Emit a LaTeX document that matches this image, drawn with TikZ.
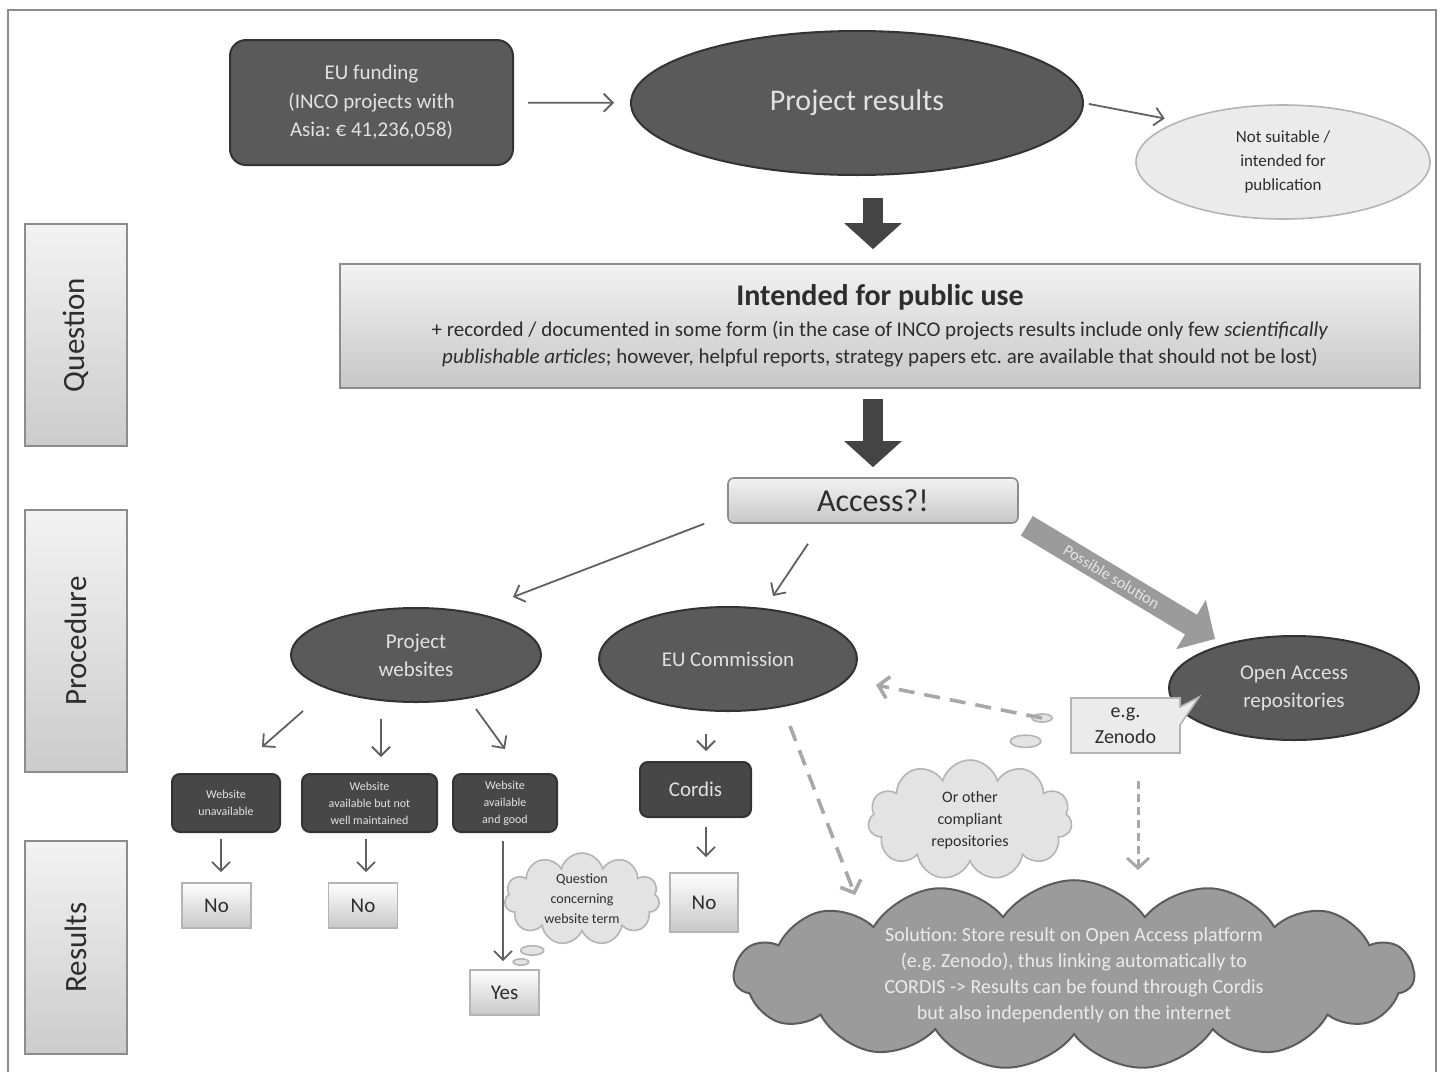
\documentclass[tikz,border=0pt]{standalone}
\usepackage{fontspec}
\setmainfont{Carlito}
\usepackage{graphicx}
\usepackage{tikz}
\usetikzlibrary{arrows.meta}
\usetikzlibrary{positioning}
\usetikzlibrary{calc}
\usetikzlibrary{shapes.geometric}
\usetikzlibrary{shapes.symbols}
\usetikzlibrary{shapes.callouts}
\frenchspacing

\begin{document}
\begin{tikzpicture}[x=0.5pt, y=-0.5pt]
    \definecolor{my_frame}{HTML}{8C8C8C}
    \definecolor{my_dark}{HTML}{5A5A5A}
    \definecolor{my_darker}{HTML}{474747}
    \definecolor{my_edge}{HTML}{333333}
    \definecolor{my_text}{HTML}{E2E2E2}
    \definecolor{my_pale}{HTML}{EBEBEB}
    \definecolor{my_border}{HTML}{B4B4B4}
    \definecolor{my_ink}{HTML}{2D2D2D}
    \definecolor{my_line}{HTML}{606060}
    \definecolor{my_dash}{HTML}{A8A8A8}
    \definecolor{my_block}{HTML}{444444}
    \definecolor{my_grey}{HTML}{9B9B9B}
    \tikzstyle{every node}=[align=center, inner sep=1pt]
    \tikzstyle{darkoval}=[ellipse, draw=my_edge, line width=1pt, fill=my_dark,
                          text=my_text, inner sep=0pt,
                          font=\fontsize{10.5}{14}\selectfont]
    \tikzstyle{darkbox}=[rectangle, rounded corners=4pt, draw=my_edge, line width=1pt,
                         fill=my_darker, text=my_text, font=\fontsize{6}{8.5}\selectfont]
    \tikzstyle{answer}=[rectangle, draw=my_border, line width=0.8pt,
                        top color=white, bottom color=my_pale!85!black,
                        text=my_ink, minimum width=34.5pt, minimum height=22.5pt,
                        font=\fontsize{10.5}{12}\selectfont]
    \tikzstyle{panel}=[rectangle, draw=my_frame, line width=0.8pt,
                       top color=white!95!black, bottom color=white!78!black, text=my_ink]
    \tikzstyle{sidebox}=[rectangle, draw=my_frame, line width=0.8pt,
                         top color=white!95!black, bottom color=white!80!black,
                         minimum width=51pt, text=my_ink,
                         font=\fontsize{15.5}{18}\selectfont]
    \tikzstyle{thought}=[cloud callout, draw=my_border, line width=0.8pt, fill=white!89!black,
                         cloud puffs=11, cloud ignores aspect, inner sep=0pt, text=my_ink]
    \tikzstyle{thinarrow}=[draw=my_line, line width=0.9pt,
                           -{Straight Barb[length=4.5pt, width=9pt]}]
    \tikzstyle{dasharrow}=[draw=my_dash, line width=1.8pt, dash pattern=on 8pt off 5pt,
                           -{Straight Barb[length=5pt, width=11pt]}]
    \tikzstyle{blockarrow}=[draw=my_block, line width=10pt,
                            -{Triangle[length=13pt, width=28pt]}]
    \tikzstyle{solarrow}=[draw=my_grey, line width=11.5pt,
                          -{Triangle[length=14pt, width=28pt]}]

    \useasboundingbox (0,0) rectangle (1442,1072);
    \draw[my_frame, line width=1pt] (8,1072) -- (8,10) -- (1436,10) -- (1436,1072);

    % side labels
    \node[sidebox, minimum height=111pt] (question) at (76,335) {\rotatebox{90}{Question}};
    \node[sidebox, minimum height=131pt] (procedure) at (76,641) {\rotatebox{90}{Procedure}};
    \node[sidebox, minimum height=106.5pt] (resultsrow) at (76,947.5) {\rotatebox{90}{Results}};

    % top part
    \node[darkbox, rounded corners=8pt, fill=my_dark, minimum width=141.5pt, minimum height=62.5pt,
          font=\fontsize{10.5}{14.3}\selectfont] (funding) at (371.5,102.5)
          {EU funding\\(INCO projects with\\Asia: € 41,236,058)};
    \node[darkoval, minimum width=226pt, minimum height=72pt,
          font=\fontsize{15}{18}\selectfont] (results) at (857,103) {Project results};
    \node[ellipse, draw=my_border, line width=0.8pt, fill=my_pale, minimum width=147pt,
          minimum height=57pt, inner sep=0pt, text=my_ink,
          font=\fontsize{8.5}{12}\selectfont] (unsuitable) at (1283,162)
          {Not suitable /\\intended for\\publication};
    \node[panel, minimum width=540pt, minimum height=62pt,
          font=\fontsize{10.5}{13.5}\selectfont] (public) at (880,326)
          {{\fontsize{15}{18}\selectfont\bfseries Intended for public use}\\[2pt]
          + recorded / documented in some form (in the case of INCO projects results include only few \textit{scientifically}\\
          \textit{publishable articles}; however, helpful reports, strategy papers etc. are available that should not be lost)};
    \node[panel, rounded corners=3pt, minimum width=145pt, minimum height=22.5pt,
          font=\fontsize{16}{18}\selectfont] (access) at (873,500.5) {Access?!};

    % procedure
    \node[darkoval, minimum width=125pt, minimum height=47pt] (websites) at (416,655) {Project\\websites};
    \node[darkoval, minimum width=129pt, minimum height=52pt] (eucom) at (728,659) {EU Commission};
    \node[darkoval, minimum width=125pt, minimum height=52pt] (oa) at (1294,688) {Open Access\\repositories};
    \node[rectangle callout, callout absolute pointer={($(oa.west)+(31,9)$)}, callout pointer width=9pt,
          draw=my_border, line width=0.8pt, fill=my_pale, minimum width=54.5pt, minimum height=27.5pt,
          text=my_ink, font=\fontsize{10}{13}\selectfont] (zenodo) at (1125.5,725.5) {e.g.\\Zenodo};

    \node[darkbox, minimum width=54pt, minimum height=29pt] (web1) at (226,803) {Website\\unavailable};
    \node[darkbox, minimum width=67.5pt, minimum height=29pt] (web2) at (369.5,803) {Website\\available but not\\well maintained};
    \node[darkbox, minimum width=52pt, minimum height=29pt] (web3) at (505,803) {Website\\available\\and good};
    \node[darkbox, minimum width=55.5pt, minimum height=27.5pt,
          font=\fontsize{10.5}{12}\selectfont] (cordis) at (695.5,789.5) {Cordis};

    % results
    \node[answer] (no1) at (216.5,905.5) {No};
    \node[answer] (no2) at (363,905.5) {No};
    \node[answer, minimum width=34pt, minimum height=29.5pt] (no3) at (704,902.5) {No};
    \node[answer] (yes) at (504.5,992.5) {Yes};

    \coordinate (asktip) at (521,962);
    \coordinate (othertip) at (1042,718);
    \node[thought, callout absolute pointer={(asktip)}, minimum width=77.5pt, minimum height=46pt,
          font=\fontsize{7}{10}\selectfont] (askterm) at (582,899) {Question\\concerning\\website term};
    \node[thought, callout absolute pointer={(othertip)}, minimum width=102pt, minimum height=60pt,
          font=\fontsize{8}{11}\selectfont] (others) at (970,820) {Or other\\compliant\\repositories};
    \node[cloud, cloud puffs=15, cloud puff arc=110, cloud ignores aspect, draw=my_edge!80,
          line width=1pt, fill=my_grey, minimum width=340pt, minimum height=68pt, inner sep=0pt,
          text=white!92!black, font=\fontsize{10}{13}\selectfont] (solution) at (1074,975)
          {Solution: Store result on Open Access platform\\(e.g. Zenodo), thus linking automatically to\\
          CORDIS -> Results can be found through Cordis\\but also independently on the internet};

    % connectors
    \draw[thinarrow, shorten <=7pt, shorten >=8pt] (funding) -- (results);
    \draw[thinarrow, shorten <=2.5pt, shorten >=7pt] (results.east) -- (unsuitable.north west);
    \draw[blockarrow, shorten <=11pt, shorten >=7pt] (results.south -| access.north) -- (public.north -| access.north);
    \draw[blockarrow, shorten <=5pt, shorten >=5pt] (public.south -| access.north) -- (access.north);
    \draw[thinarrow] ($(access.south west)+(-23,0)$) -- ($(websites.north)+(97,-10)$);
    \draw[thinarrow] ($(access.south)+(-65,20)$) -- ($(eucom.north)+(45,-10)$);
    \draw[solarrow] ($(access.south east)+(8,2)$) -- ($(oa.north)+(-79,4)$)
        node[pos=0.45, sloped, text=white!90!black, font=\fontsize{8}{10}\selectfont] (possible) {Possible solution};

    \draw[thinarrow] ($(websites.south)+(-113,8)$) -- ($(web1.north)+(36,-26)$);
    \draw[thinarrow] ($(websites.south)+(-35,16)$) -- ($(web2.north)+(11.5,-16)$);
    \draw[thinarrow] ($(websites.south)+(60,6)$) -- ($(web3.north)+(0,-24)$);
    \draw[thinarrow] ($(web1.south)+(-5,6)$) -- ($(no1.north)+(4.5,-10)$);
    \draw[thinarrow] ($(web2.south)+(-3.5,6)$) -- ($(no2.north)+(3,-10)$);
    \draw[thinarrow] ($(web3.south)+(-2,8)$) -- ($(yes.north)+(-1.5,-8)$);
    \draw[thinarrow] ($(eucom.south)+(-22,22)$) -- ($(cordis.north)+(10.5,-10)$);
    \draw[thinarrow] ($(cordis.south)+(10.5,9)$) -- ($(no3.north)+(2,-15)$);

    \draw[dasharrow] ($(eucom.south)+(62,14)$) -- ($(solution.center)+(-219,-80)$);
    \draw[dasharrow] (othertip) -- ($(eucom.east)+(18,26)$);
    \draw[dasharrow, line width=1.5pt, dash pattern=on 4pt off 2.5pt]
        ($(zenodo.south)+(12.5,27)$) -- ($(solution.center)+(64,-105)$);
\end{tikzpicture}
\end{document}
